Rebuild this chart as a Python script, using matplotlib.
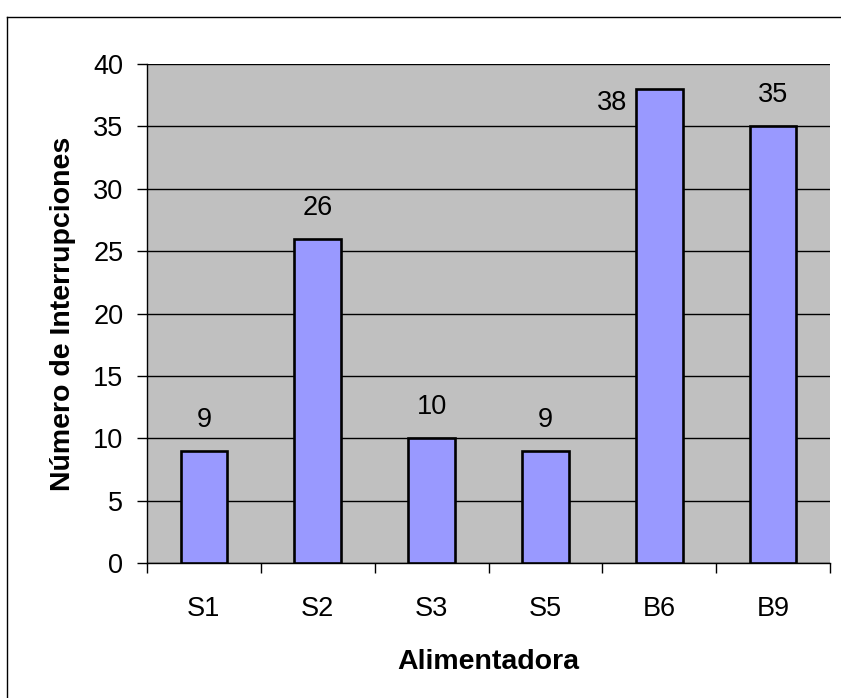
import matplotlib
matplotlib.use("Agg")
import matplotlib.pyplot as plt
from matplotlib.lines import Line2D

categories = ["S1", "S2", "S3", "S5", "B6", "B9"]
values = [9, 26, 10, 9, 38, 35]
y_ticks = [0, 5, 10, 15, 20, 25, 30, 35, 40]

plt.rcParams['font.family'] = ['Liberation Sans', 'DejaVu Sans']

W, H = 841, 698
fig = plt.figure(figsize=(W / 100, H / 100), dpi=100)
ax = fig.add_axes([147 / W, 1 - 563 / H, (830 - 147) / W, (563 - 64) / H])

TICK_FS = 19.5
LABEL_FS = 20.5

ax.set_facecolor("#C0C0C0")
x = list(range(len(categories)))
bars = ax.bar(x, values, width=0.41, color="#9999FF", edgecolor="black", linewidth=1.9, zorder=3)

ax.set_xlim(-0.5, len(categories) - 0.5)
ax.set_ylim(0, 40)
ax.set_yticks(y_ticks)
ax.set_yticklabels([str(v) for v in y_ticks], fontsize=TICK_FS)
ax.yaxis.grid(True, color="black", linewidth=1.0, zorder=0)
ax.set_axisbelow(True)

ax.set_xticks([i - 0.5 for i in range(len(categories) + 1)])
ax.set_xticklabels([])
ax.set_xticks(x, minor=True)
ax.set_xticklabels(categories, minor=True, fontsize=TICK_FS)
ax.tick_params(axis="x", which="minor", length=0, pad=24)
ax.tick_params(axis="x", which="major", direction="out", length=7, width=1)
ax.tick_params(axis="y", direction="out", length=7, width=1, pad=10)

for side in ["top", "right"]:
    ax.spines[side].set_visible(False)
ax.spines["left"].set_linewidth(1)
ax.spines["bottom"].set_linewidth(1)

for i, (b, v) in enumerate(zip(bars, values)):
    if v >= 38:
        ax.annotate(str(v), (b.get_x(), v), xytext=(-6, -10), textcoords="offset points",
                    ha="right", va="center", fontsize=TICK_FS)
    else:
        ax.annotate(str(v), (b.get_x() + b.get_width() / 2, v), xytext=(0, 13), textcoords="offset points",
                    ha="center", va="bottom", fontsize=TICK_FS)

ax.set_xlabel("Alimentadora", fontsize=LABEL_FS, fontweight="bold", labelpad=19)
ax.set_ylabel("Número de Interrupciones", fontsize=LABEL_FS, fontweight="bold", labelpad=12)

# outer border
fig.add_artist(Line2D([6.5 / W, 6.5 / W], [0, 1 - 16.5 / H], transform=fig.transFigure, color="black", linewidth=1))
fig.add_artist(Line2D([6.5 / W, 1], [1 - 16.5 / H, 1 - 16.5 / H], transform=fig.transFigure, color="black", linewidth=1))

fig.savefig("out.png", dpi=100)
